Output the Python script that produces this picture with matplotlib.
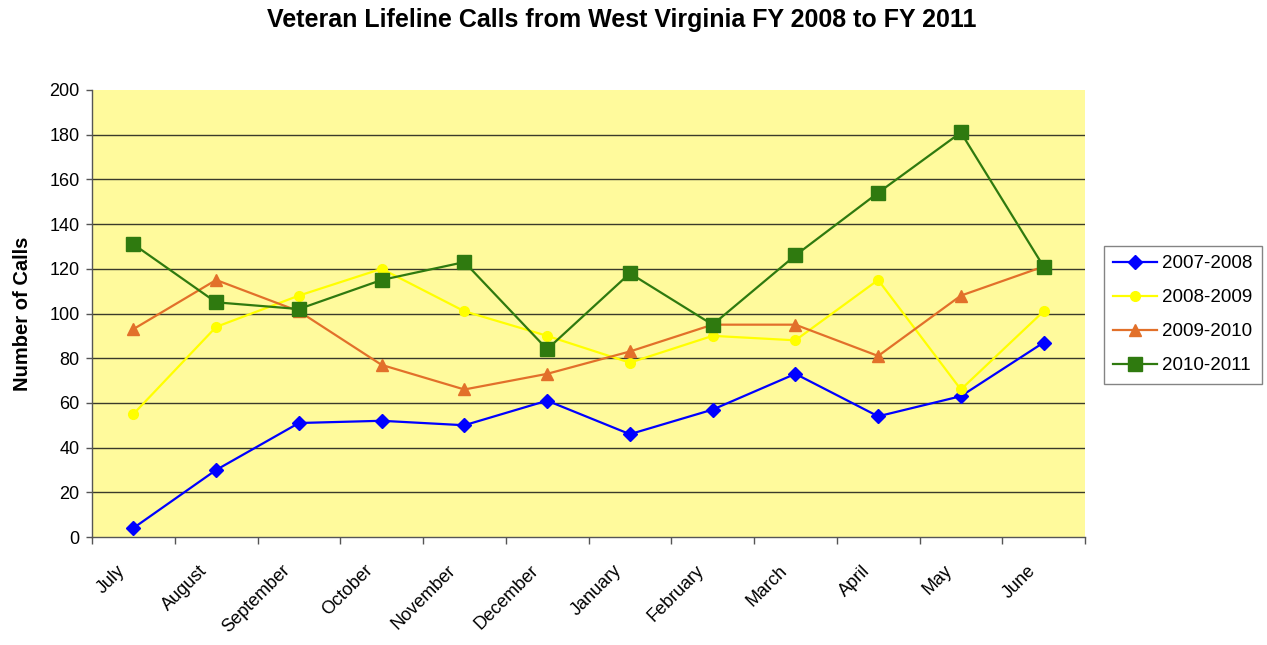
import matplotlib
matplotlib.use("Agg")
import matplotlib.pyplot as plt
import matplotlib.transforms as mtransforms
import numpy as np

plt.rcParams['font.family'] = ['Liberation Sans', 'DejaVu Sans']

months = ["July", "August", "September", "October", "November", "December",
          "January", "February", "March", "April", "May", "June"]

fy_2007_2008 = [4, 30, 51, 52, 50, 61, 46, 57, 73, 54, 63, 87]
fy_2008_2009 = [55, 94, 108, 120, 101, 90, 78, 90, 88, 115, 66, 101]
fy_2009_2010 = [93, 115, 101, 77, 66, 73, 83, 95, 95, 81, 108, 121]
fy_2010_2011 = [131, 105, 102, 115, 123, 84, 118, 95, 126, 154, 181, 121]

series = [
    ("2007-2008", fy_2007_2008, "#0000FF", "D", 7),
    ("2008-2009", fy_2008_2009, "#FFFF00", "o", 7),
    ("2009-2010", fy_2009_2010, "#E2702A", "^", 8),
    ("2010-2011", fy_2010_2011, "#2F7A0F", "s", 10),
]

fig = plt.figure(figsize=(12.67, 6.45), dpi=100)
ax = fig.add_axes([92 / 1267, 1 - 537 / 645, (1085 - 92) / 1267, (537 - 90) / 645])
ax.set_facecolor("#FFFA9C")

x = np.arange(len(months))
yticks = np.arange(0, 201, 20)
for yv in yticks[1:-1]:
    ax.axhline(yv, color="#3a3a2a", lw=1.0, zorder=1)

handles = []
for label, vals, color, marker, ms in series:
    h, = ax.plot(x, vals, color=color, lw=1.6, marker=marker, markersize=ms,
                 markerfacecolor=color, markeredgecolor=color, label=label, zorder=3)
    handles.append(h)

ax.set_xlim(-0.5, len(months) - 0.5)
ax.set_ylim(0, 200)
ax.set_yticks(yticks)
ax.tick_params(axis="y", labelsize=13, length=4, direction="out", width=1,
               color="#555555", pad=5)

ax.set_xticks(x)
ax.set_xticklabels(months, rotation=45, ha="right", rotation_mode="anchor", fontsize=13)
ax.set_xticks(np.arange(-0.5, len(months), 1.0), minor=True)
ax.tick_params(axis="x", which="major", length=0, pad=18)
ax.tick_params(axis="x", which="minor", length=5, width=1, color="#555555", direction="out")
shift = mtransforms.ScaledTranslation(-17 / 100, 0, fig.dpi_scale_trans)
for lbl in ax.get_xticklabels():
    lbl.set_transform(lbl.get_transform() + shift)

for side in ("top", "right"):
    ax.spines[side].set_visible(False)
for side in ("left", "bottom"):
    ax.spines[side].set_color("#555555")
    ax.spines[side].set_linewidth(1.0)

ax.set_ylabel("Number of Calls", fontsize=14.5, fontweight="bold")
ax.yaxis.set_label_coords(-0.060, 0.5)

fig.text(622 / 1267, 1 - 20 / 645, "Veteran Lifeline Calls from West Virginia FY 2008 to FY 2011",
         ha="center", va="center", fontsize=18, fontweight="bold")

leg = fig.legend(handles=handles, loc="upper left",
                 bbox_to_anchor=(1104 / 1267, 1 - 246 / 645), borderaxespad=0,
                 fontsize=13.5, frameon=True, fancybox=False, edgecolor="#666666",
                 handlelength=2.3, borderpad=0.5, labelspacing=0.9, handletextpad=0.3)
leg.get_frame().set_linewidth(1.0)

fig.savefig("out.png", dpi=100, facecolor="white")
